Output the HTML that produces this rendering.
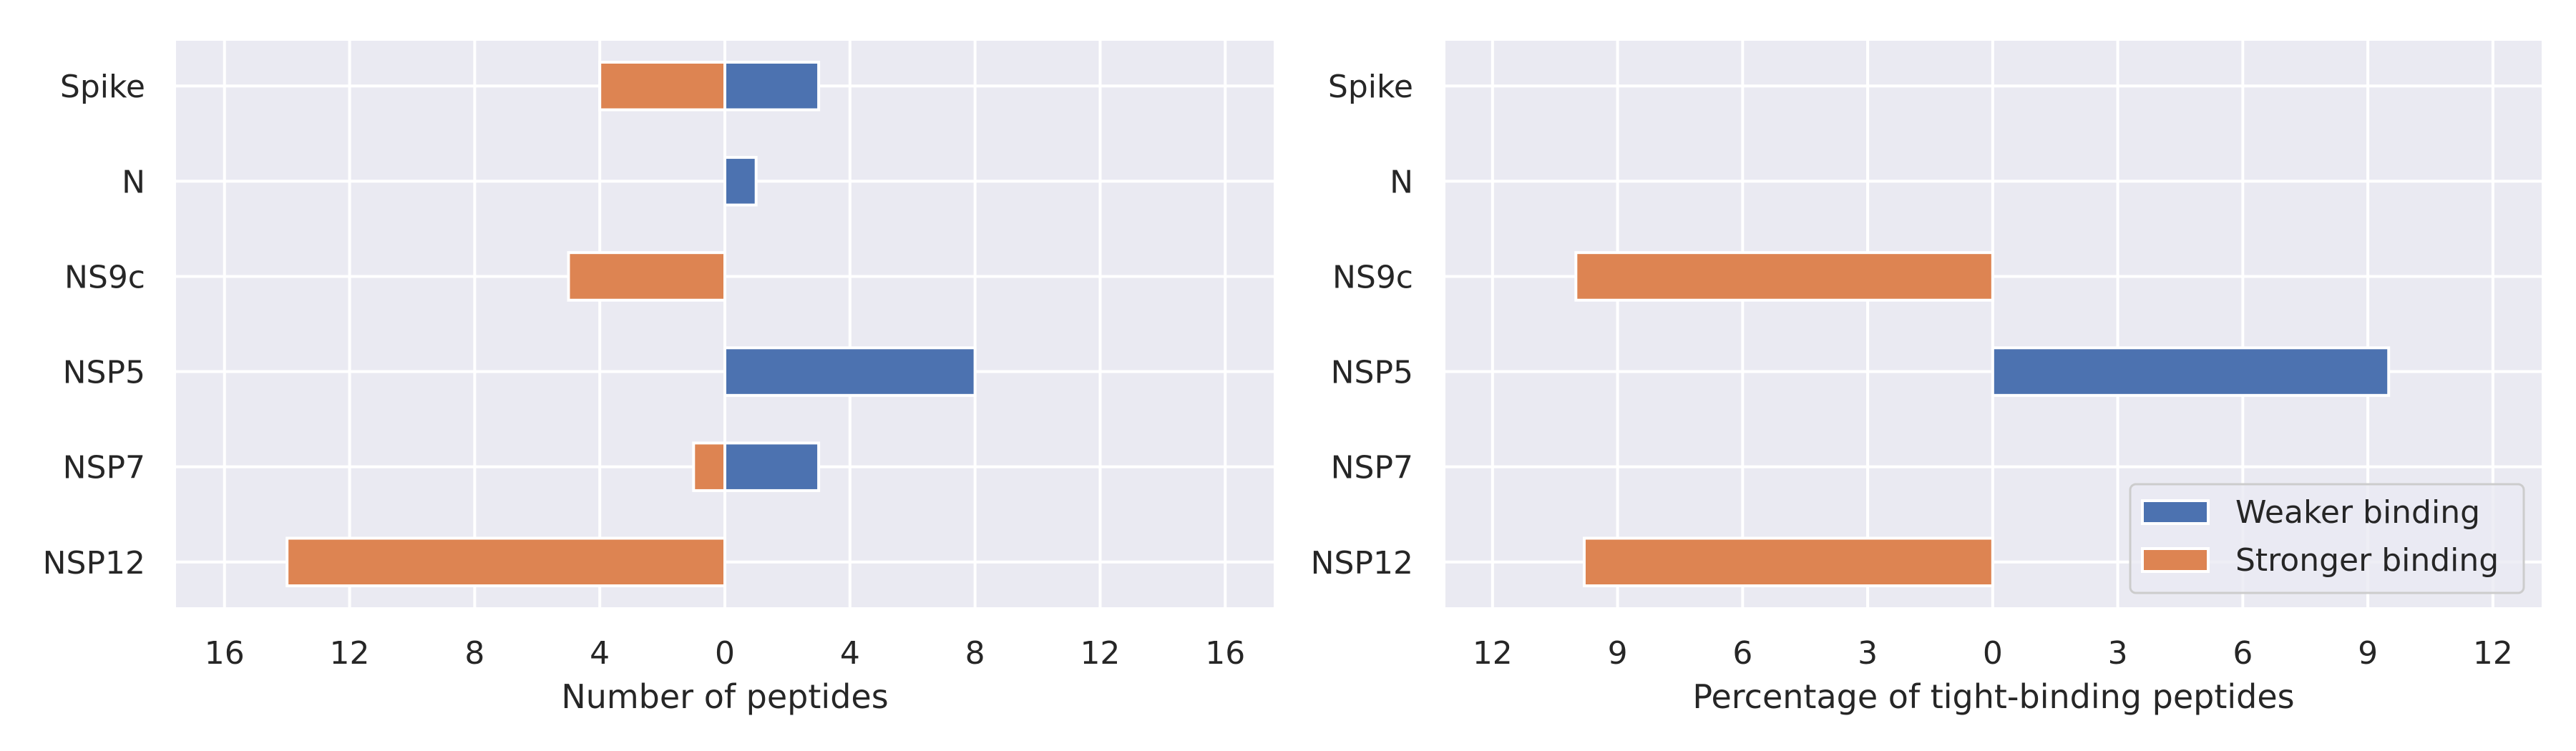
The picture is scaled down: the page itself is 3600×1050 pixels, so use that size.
<!DOCTYPE html>
<html><head><meta charset="utf-8"><style>
html,body{margin:0;padding:0;background:#fff}
svg{display:block}
text{font-family:"DejaVu Sans","Liberation Sans",sans-serif;fill:#262626}
</style></head><body>
<svg id="chart" width="3600" height="1050" viewBox="0 0 3600 1050" xmlns="http://www.w3.org/2000/svg"></svg>
<script>
const categories = ["Spike","N","NS9c","NSP5","NSP7","NSP12"];
const countWeaker = [3,1,0,8,3,0];
const countStronger = [-4,0,-5,0,-1,-14];
const pctWeaker = [0,0,0,9.5,0,0];
const pctStronger = [0,0,-10,0,0,-9.8];
const countTicks = [-16,-12,-8,-4,0,4,8,12,16];
const countTickLabels = ["16","12","8","4","0","4","8","12","16"];
const pctTicks = [-12,-9,-6,-3,0,3,6,9,12];
const pctTickLabels = ["12","9","6","3","0","3","6","9","12"];
const legendLabels = ["Weaker binding","Stronger binding"];

const NS="http://www.w3.org/2000/svg";
const svg=document.getElementById('chart');
const BLUE="#4c72b0", ORANGE="#dd8452";
function mk(tag,attrs,parent){const e=document.createElementNS(NS,tag);for(const k in attrs)e.setAttribute(k,attrs[k]);(parent||svg).appendChild(e);return e;}

function panel(name,x0,x1,xmin,xmax,ticks,tickLabels,weak,strong,xlabel,labelX){
  const y0=57,y1=849;
  const g=mk('g',{});
  
  
  const xs=v=>x0+(v-xmin)/(xmax-xmin)*(x1-x0);
  const rowH=(y1-y0)/5.95;
  const ys=i=>y0+(i+0.475)*rowH;
  const bg=mk('rect',{x:x0,y:y0,width:x1-x0,height:y1-y0,fill:'#eaeaf2'},g);
  
  
  ticks.forEach((t,i)=>{
    const l=mk('line',{x1:xs(t),x2:xs(t),y1:y0,y2:y1,stroke:'#fff','stroke-width':4},g);
    
    
    const tx=mk('text',{x:xs(t),y:928,'font-size':44,'text-anchor':'middle'},g);
    tx.textContent=tickLabels[i];
    
    
  });
  categories.forEach((c,i)=>{
    const l=mk('line',{x1:x0,x2:x1,y1:ys(i),y2:ys(i),stroke:'#fff','stroke-width':4},g);
    
    
    const tx=mk('text',{x:labelX,y:ys(i)+16,'font-size':44,'text-anchor':'end'},g);
    tx.textContent=c;
    
    
  });
  const bh=rowH*0.5;
  categories.forEach((c,i)=>{
    [[weak[i],BLUE,'bar-weaker-'],[strong[i],ORANGE,'bar-stronger-']].forEach(([v,col,nm])=>{
      if(v===0)return;
      const a=xs(Math.min(0,v)),b=xs(Math.max(0,v));
      const r=mk('rect',{x:a,y:ys(i)-bh/2,width:b-a,height:bh,fill:col,stroke:'#fff','stroke-width':4},g);
      
      
    });
  });
  const xl=mk('text',{x:(x0+x1)/2,y:990,'font-size':46,'text-anchor':'middle'},g);
  xl.textContent=xlabel;
  
  
}
panel('count-panel',246,1780,-17.55,17.55,countTicks,countTickLabels,countWeaker,countStronger,'Number of peptides',203);
panel('percentage-panel',2020,3552,-13.13,13.17,pctTicks,pctTickLabels,pctWeaker,pctStronger,'Percentage of tight-binding peptides',1975);

const lg=mk('g',{});


mk('rect',{x:2977,y:677,width:550,height:152,rx:8,fill:'#eaeaf2','fill-opacity':0.8,stroke:'#cccccc','stroke-width':3},lg);
[BLUE,ORANGE].forEach((col,i)=>{
  const yy=700+i*67;
  const p=mk('rect',{x:2994,y:yy,width:92,height:32,fill:col,stroke:'#fff','stroke-width':4},lg);
  
  
  const t=mk('text',{x:3124,y:yy+31,'font-size':44},lg);
  t.textContent=legendLabels[i];
  
  
});
</script>
</body></html>
